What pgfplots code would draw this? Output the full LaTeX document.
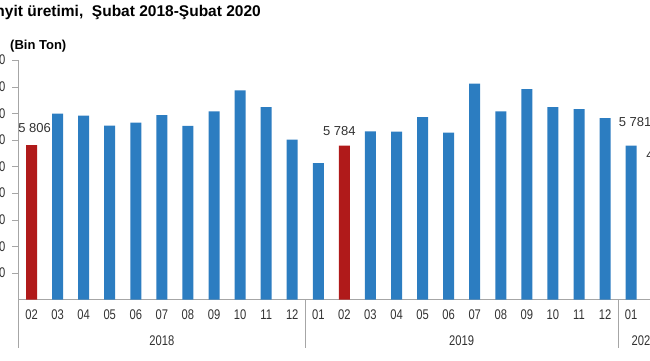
\documentclass[border=0pt]{standalone}
\usepackage{fontspec}
\setmainfont{Liberation Sans}
\newfontfamily\narrowfont{Liberation Sans}[FakeStretch=0.8]
\usepackage{pgfplots}
\usepackage{pgfplotstable}
\pgfplotsset{compat=1.18}
\definecolor{barblue}{RGB}{44,125,193}
\definecolor{barred}{RGB}{176,26,26}
\definecolor{axgray}{RGB}{166,166,166}
\definecolor{txtgray}{RGB}{50,50,50}

\pgfplotstableread{
x y
1 6990
2 6910
3 6540
4 6650
5 6930
6 6530
7 7070
8 7860
9 7230
10 6010
11 5130
13 6320
14 6310
15 6860
16 6270
17 8120
18 7070
19 7910
20 7230
21 7160
22 6820
23 5781
}\bluetab

\pgfplotstableread{
x y lab dx dy
0 5806 {5 806} 3 12.6
12 5784 {5 784} -5 10
24 4610 {4 610} 5.5 17
}\redtab

\pgfplotstableread{
x y lab dx dy
23 5781 {5 781} 4 19
}\labtab

\begin{document}
\begin{tikzpicture}[x=1pt,y=1pt]
\begin{scope}
\clip (0,0) rectangle (650,-360);
\node[anchor=base east, inner sep=0pt, font=\bfseries\fontsize{15.5}{18}\selectfont] at (261,-16) {Linyit üretimi,\ \ Şubat 2018-Şubat 2020};
\node[anchor=base west, inner sep=0pt, font=\bfseries\fontsize{13}{15}\selectfont] at (10,-49) {(Bin Ton)};
\begin{axis}[
  at={(18.5pt,-299.5pt)}, anchor=south west, scale only axis,
  width=651.75pt, height=239.4pt,
  xmin=-0.5, xmax=24.5, ymin=0, ymax=9000,
  clip=false,
  ybar, bar width=11pt,
  axis x line*=bottom, axis y line*=left,
  axis line style={axgray},
  xtick={0,...,24},
  xticklabels={02,03,04,05,06,07,08,09,10,11,12,01,02,03,04,05,06,07,08,09,10,11,12,01,02},
  xtick style={draw=none},
  ytick={1000,2000,...,9000},
  ytick style={axgray},
  tick align=outside, major tick length=6pt,
  xticklabel style={font=\narrowfont\fontsize{14}{16}\selectfont, text=txtgray, anchor=base, inner sep=0pt, yshift=-14pt},
  yticklabel style={font=\narrowfont\fontsize{14}{16}\selectfont, text=txtgray, anchor=east, inner sep=0pt, xshift=-7pt},
  /pgf/number format/.cd, 1000 sep={\ }, assume math mode=true,
]
\addplot[fill=barblue, draw=none, bar shift=0pt] table[x=x,y=y]{\bluetab};
\addplot[fill=barred, draw=none, bar shift=0pt,
  nodes near coords, point meta=explicit symbolic,
  visualization depends on={\thisrow{dx} \as \dx},
  visualization depends on={\thisrow{dy} \as \dy},
  every node near coord/.append style={anchor=base, inner sep=0pt, xshift=\dx pt, yshift=\dy pt, text=txtgray, font=\fontsize{13}{15}\selectfont}
  ] table[x=x,y=y,meta=lab]{\redtab};
\addplot[fill=none, draw=none, bar shift=0pt,
  nodes near coords, point meta=explicit symbolic,
  visualization depends on={\thisrow{dx} \as \dx},
  visualization depends on={\thisrow{dy} \as \dy},
  every node near coord/.append style={anchor=base, inner sep=0pt, xshift=\dx pt, yshift=\dy pt, text=txtgray, font=\fontsize{13}{15}\selectfont}
  ] table[x=x,y=y,meta=lab]{\labtab};
\draw[axgray] (axis cs:-0.5,0) -- ++(0pt,-48.5pt);
\draw[axgray] (axis cs:10.5,0) -- ++(0pt,-48.5pt);
\draw[axgray] (axis cs:22.5,0) -- ++(0pt,-48.5pt);
\node[anchor=base, inner sep=0pt, text=txtgray, font=\narrowfont\fontsize{14}{16}\selectfont] at ([yshift=-45.5pt]axis cs:5,0) {2018};
\node[anchor=base, inner sep=0pt, text=txtgray, font=\narrowfont\fontsize{14}{16}\selectfont] at ([yshift=-45.5pt]axis cs:16.5,0) {2019};
\node[anchor=base, inner sep=0pt, text=txtgray, font=\narrowfont\fontsize{14}{16}\selectfont] at ([yshift=-45.5pt]axis cs:23.5,0) {2020};
\end{axis}
\end{scope}
\pgfresetboundingbox
\path[use as bounding box] (0,0) rectangle (650,-360);
\end{tikzpicture}
\end{document}
